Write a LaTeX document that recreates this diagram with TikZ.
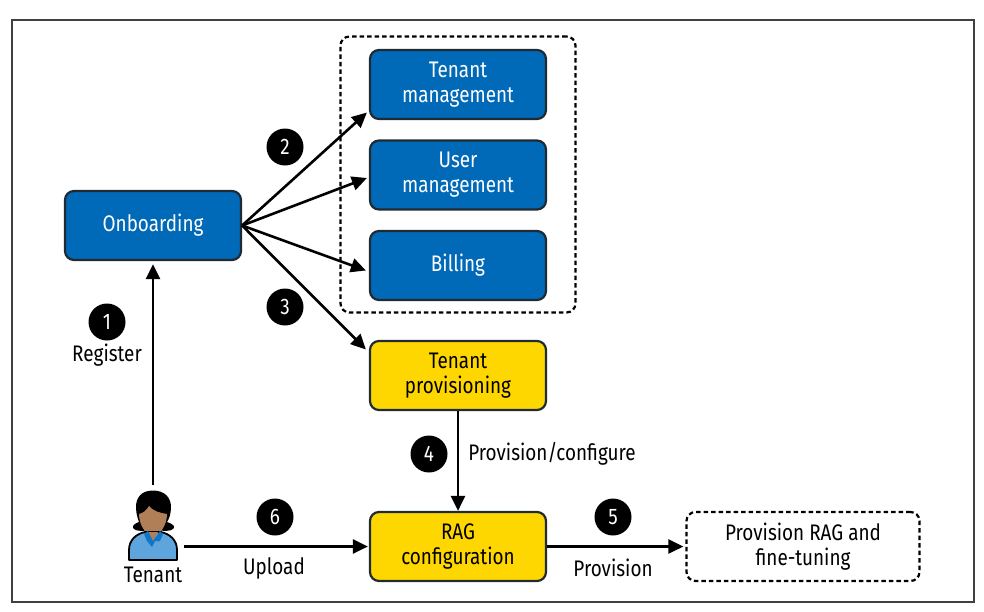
\documentclass[tikz,border=0pt]{standalone}
\usepackage{fontspec}
\setmainfont[FakeStretch=0.84]{Fira Sans}
\usetikzlibrary{arrows.meta}
\definecolor{box blue}{HTML}{0069B8}
\definecolor{box yellow}{HTML}{FFD700}
\definecolor{box edge}{HTML}{1F2A33}
\definecolor{skin}{HTML}{B07F58}
\definecolor{shirt}{HTML}{5DA5DC}
\definecolor{collar}{HTML}{1175C4}
\tikzset{
  box/.style={draw=box edge, line width=2.2pt, rounded corners=9pt, align=center,
    minimum width=176pt, minimum height=69pt, inner sep=0pt},
  bluebox/.style={box, fill=box blue, text=white},
  yellowbox/.style={box, fill=box yellow, text=black},
  group/.style={draw, line width=2.2pt, dash pattern=on 4.5pt off 3pt, rounded corners=9pt,
    align=center, inner sep=0pt},
  badge/.style={circle, fill=black, text=white, minimum size=37pt, inner sep=0pt},
  tag/.style={inner sep=0pt},
  edge/.style={-{Triangle[length=15pt,width=14pt]}, line width=2.6pt}
}
\begin{document}
\begin{tikzpicture}[x=1pt, y=-1pt, font=\fontsize{22.5}{25}\selectfont]
    \useasboundingbox (0,0) rectangle (984,611);
    \draw[draw=black!75, line width=1.2pt] (12,20) rectangle (974,602);
    % services
    \node[group, minimum width=235pt, minimum height=276pt] (services) at (458,174.5) {};
    \node[bluebox] (tenantmgmt) at (458,84.5) {Tenant\\management};
    \node[bluebox] (usermgmt) at (458,175) {User\\management};
    \node[bluebox] (billing) at (458,265.5) {Billing};
    \node[bluebox] (onboarding) at (153,225.5) {Onboarding};
    \node[yellowbox] (provisioning) at (458,375.5) {Tenant\\provisioning};
    \node[yellowbox] (rag) at (458,546.5) {RAG\\configuration};
    \node[group, minimum width=233pt, minimum height=69pt] (finetune) at (803,546.5) {Provision RAG and\\fine-tuning};
    % tenant icon
    \fill[black] (153,490.5) .. controls (141,490.5) and (136,498) .. (136,507)
        .. controls (136,514) and (138,519) .. (139,522) .. controls (136,523) and (132,525) .. (133,528)
        .. controls (135,532) and (145,531) .. (150,530) -- (157,530)
        .. controls (162,531) and (172,532) .. (174,528) .. controls (175,525) and (170,523) .. (167,522)
        .. controls (169,519) and (171,514) .. (171,507) .. controls (171,498) and (165,490.5) .. (153,490.5) -- cycle;
    \fill[skin] (149,506) .. controls (146,511) and (143,513) .. (139,514)
        .. controls (139,525) and (146,535) .. (153,537) .. controls (160,535) and (167,525) .. (167,514)
        .. controls (160,513) and (153,511) .. (149,506) -- cycle;
    \draw[fill=shirt, line width=1.8pt, line join=round] (129,560) -- (129,550)
        .. controls (129,540) and (136,534) .. (145,532) -- (161,532)
        .. controls (170,534) and (177,540) .. (177,550) -- (177,560) -- cycle;
    \fill[skin] (148,532) -- (158,532) -- (153,541) -- cycle;
    \fill[collar] (144,534) -- (148,531) -- (153,541) -- (160,531) -- (163,534) -- (160,541) -- (155,541) -- (152,547) -- (147,541) -- cycle;
    \coordinate (icontop) at (153,485);
    \coordinate (iconright) at (184,546.5);
    % badges and labels
    \node[badge] (step1) at (107,322) {1};
    \node[badge] (step2) at (285,147) {2};
    \node[badge] (step3) at (285,307) {3};
    \node[badge] (step4) at (429,454) {4};
    \node[badge] (step5) at (613,517) {5};
    \node[badge] (step6) at (275,517) {6};
    \node[tag] (register) at (107,355) {Register};
    \node[tag] (tenantlbl) at (153,575) {Tenant};
    \node[tag] (upload) at (274,568) {Upload};
    \node[tag] (provision) at (613,568) {Provision};
    \node[tag] (provconf) at (552,454) {Provision/configure};
    % connectors
    \draw[edge] (icontop) -- ([yshift=-3pt]onboarding.south);
    \draw[edge] (onboarding.east) -- ([xshift=-2pt,yshift=-28pt]tenantmgmt.west);
    \draw[edge] (onboarding.east) -- ([xshift=-2pt,yshift=-3pt]usermgmt.west);
    \draw[edge] (onboarding.east) -- ([xshift=-3pt,yshift=-5pt]billing.west);
    \draw[edge] (onboarding.east) -- ([xshift=-3pt,yshift=26pt]provisioning.west);
    \draw[edge] (provisioning.south) -- (rag.north);
    \draw[edge] (iconright) -- ([xshift=-1pt]rag.west);
    \draw[edge] (rag.east) -- ([xshift=-2pt]finetune.west);
\end{tikzpicture}
\end{document}
